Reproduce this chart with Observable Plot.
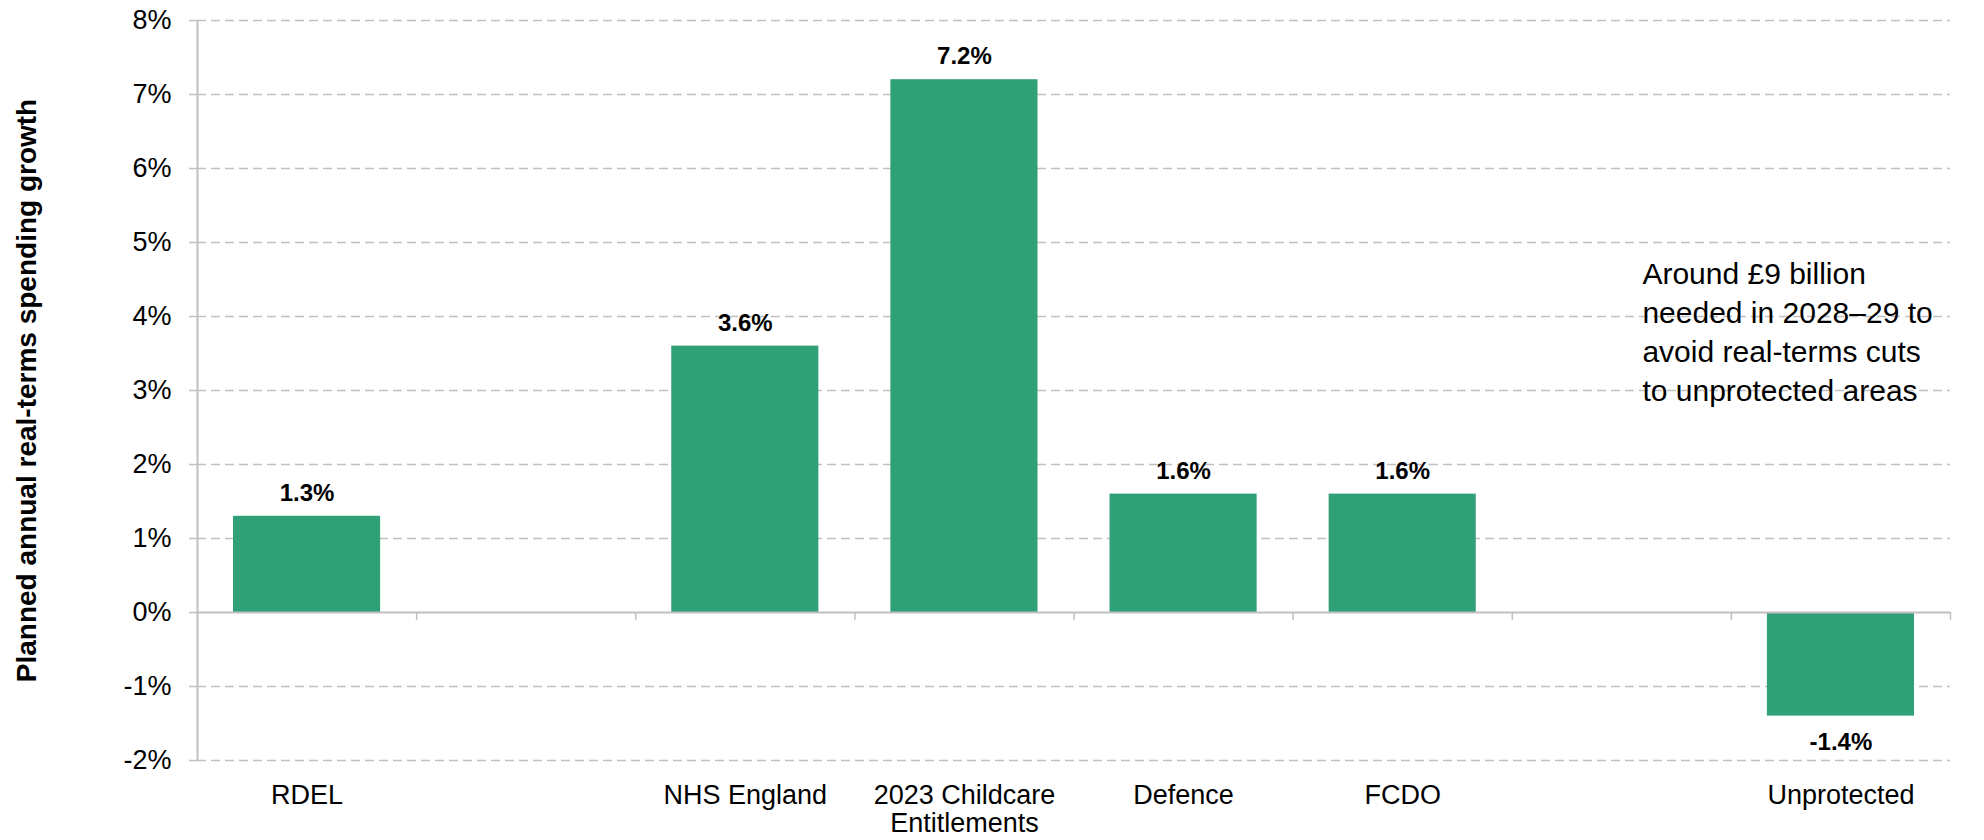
<!DOCTYPE html>
<html>
<head>
<meta charset="utf-8">
<script src="https://cdn.jsdelivr.net/npm/d3@7"></script>
<script src="https://cdn.jsdelivr.net/npm/@observablehq/plot@0.6"></script>
<style>
  html, body { margin: 0; padding: 0; background: #fff; }
  #chart { width: 1984px; height: 840px; }
</style>
</head>
<body>
<div id="chart"></div>
<script>
// Categories (empty strings are the blank slots in the original chart)
const categories = ["RDEL", "", "NHS England", "2023 Childcare\nEntitlements", "Defence", "FCDO", "", "Unprotected"];
const values = [1.3, null, 3.6, 7.2, 1.6, 1.6, null, -1.4];
const valueLabels = ["1.3%", "", "3.6%", "7.2%", "1.6%", "1.6%", "", "-1.4%"];
const yTicks = [-2, -1, 0, 1, 2, 3, 4, 5, 6, 7, 8];
const yTitle = "Planned annual real-terms spending growth";
const annotationText = "Around £9 billion\nneeded in 2028–29 to\navoid real-terms cuts\nto unprotected areas";
const annotationAt = {x: 6.594, y: 4.82};

const data = categories.map((c, i) => ({pos: i, cat: c, value: values[i], label: valueLabels[i]}))
  .filter(d => d.value != null);
const boundaries = d3.range(categories.length + 1);
const labelTicks = categories.map((c, i) => i + 0.5).filter((v, i) => categories[i] !== "");

const grey = "#c0c0c0";
const green = "#30a077";
const font = "'Liberation Sans', Arial, sans-serif";

const chart = Plot.plot({
  width: 1984,
  height: 840,
  marginLeft: 197,
  marginRight: 34,
  marginTop: 20,
  marginBottom: 80,
  style: {fontFamily: font, fontSize: "27px", background: "#fff", color: "#000"},
  x: {domain: [0, categories.length], axis: null},
  y: {domain: [-2, 8], axis: null},
  marks: [
    Plot.gridY(yTicks.filter(d => d !== 0), {stroke: grey, strokeOpacity: 1, strokeWidth: 1.5, strokeDasharray: "9,5"}),
    Plot.axisY(yTicks, {tickSize: 8, tickPadding: 18, stroke: grey, strokeWidth: 1.5, tickFormat: d => `${d}%`, fill: "#000", label: null, fontSize: 27}),
    Plot.rectY(data, {x1: "pos", x2: d => d.pos + 1, y1: 0, y2: "value", fill: green, insetLeft: 36, insetRight: 36}),
    Plot.ruleY([0], {stroke: grey, strokeWidth: 2}),
    Plot.ruleX([0], {y1: -2, y2: 8, stroke: grey, strokeWidth: 2}),
    Plot.ruleX(boundaries.slice(1), {y1: 0, y2: 0, insetBottom: -8, stroke: grey, strokeWidth: 1.5}),
    Plot.axisX(labelTicks, {
      anchor: "bottom", tickSize: 0, tickPadding: 23,
      tickFormat: v => categories[Math.floor(v)], label: null, fontSize: 27, lineHeight: 1.05, fill: "#000"
    }),
    Plot.text(data.filter(d => d.value >= 0), {x: d => d.pos + 0.5, y: "value", text: "label", dy: -23, fontWeight: "bold", fontSize: 24, fill: "#000"}),
    Plot.text(data.filter(d => d.value < 0), {x: d => d.pos + 0.5, y: "value", text: "label", dy: 26, fontWeight: "bold", fontSize: 24, fill: "#000"}),
    Plot.text([annotationText], {x: annotationAt.x, y: annotationAt.y, text: d => d, textAnchor: "start", lineAnchor: "top", lineHeight: 1.3, fontSize: 30, fill: "#000"}),
    Plot.text([yTitle], {x: 0, y: 3, text: d => d, rotate: -90, dx: -170, fontWeight: "bold", fontSize: 28, fill: "#000"})
  ]
});
document.getElementById("chart").appendChild(chart);
</script>
</body>
</html>
